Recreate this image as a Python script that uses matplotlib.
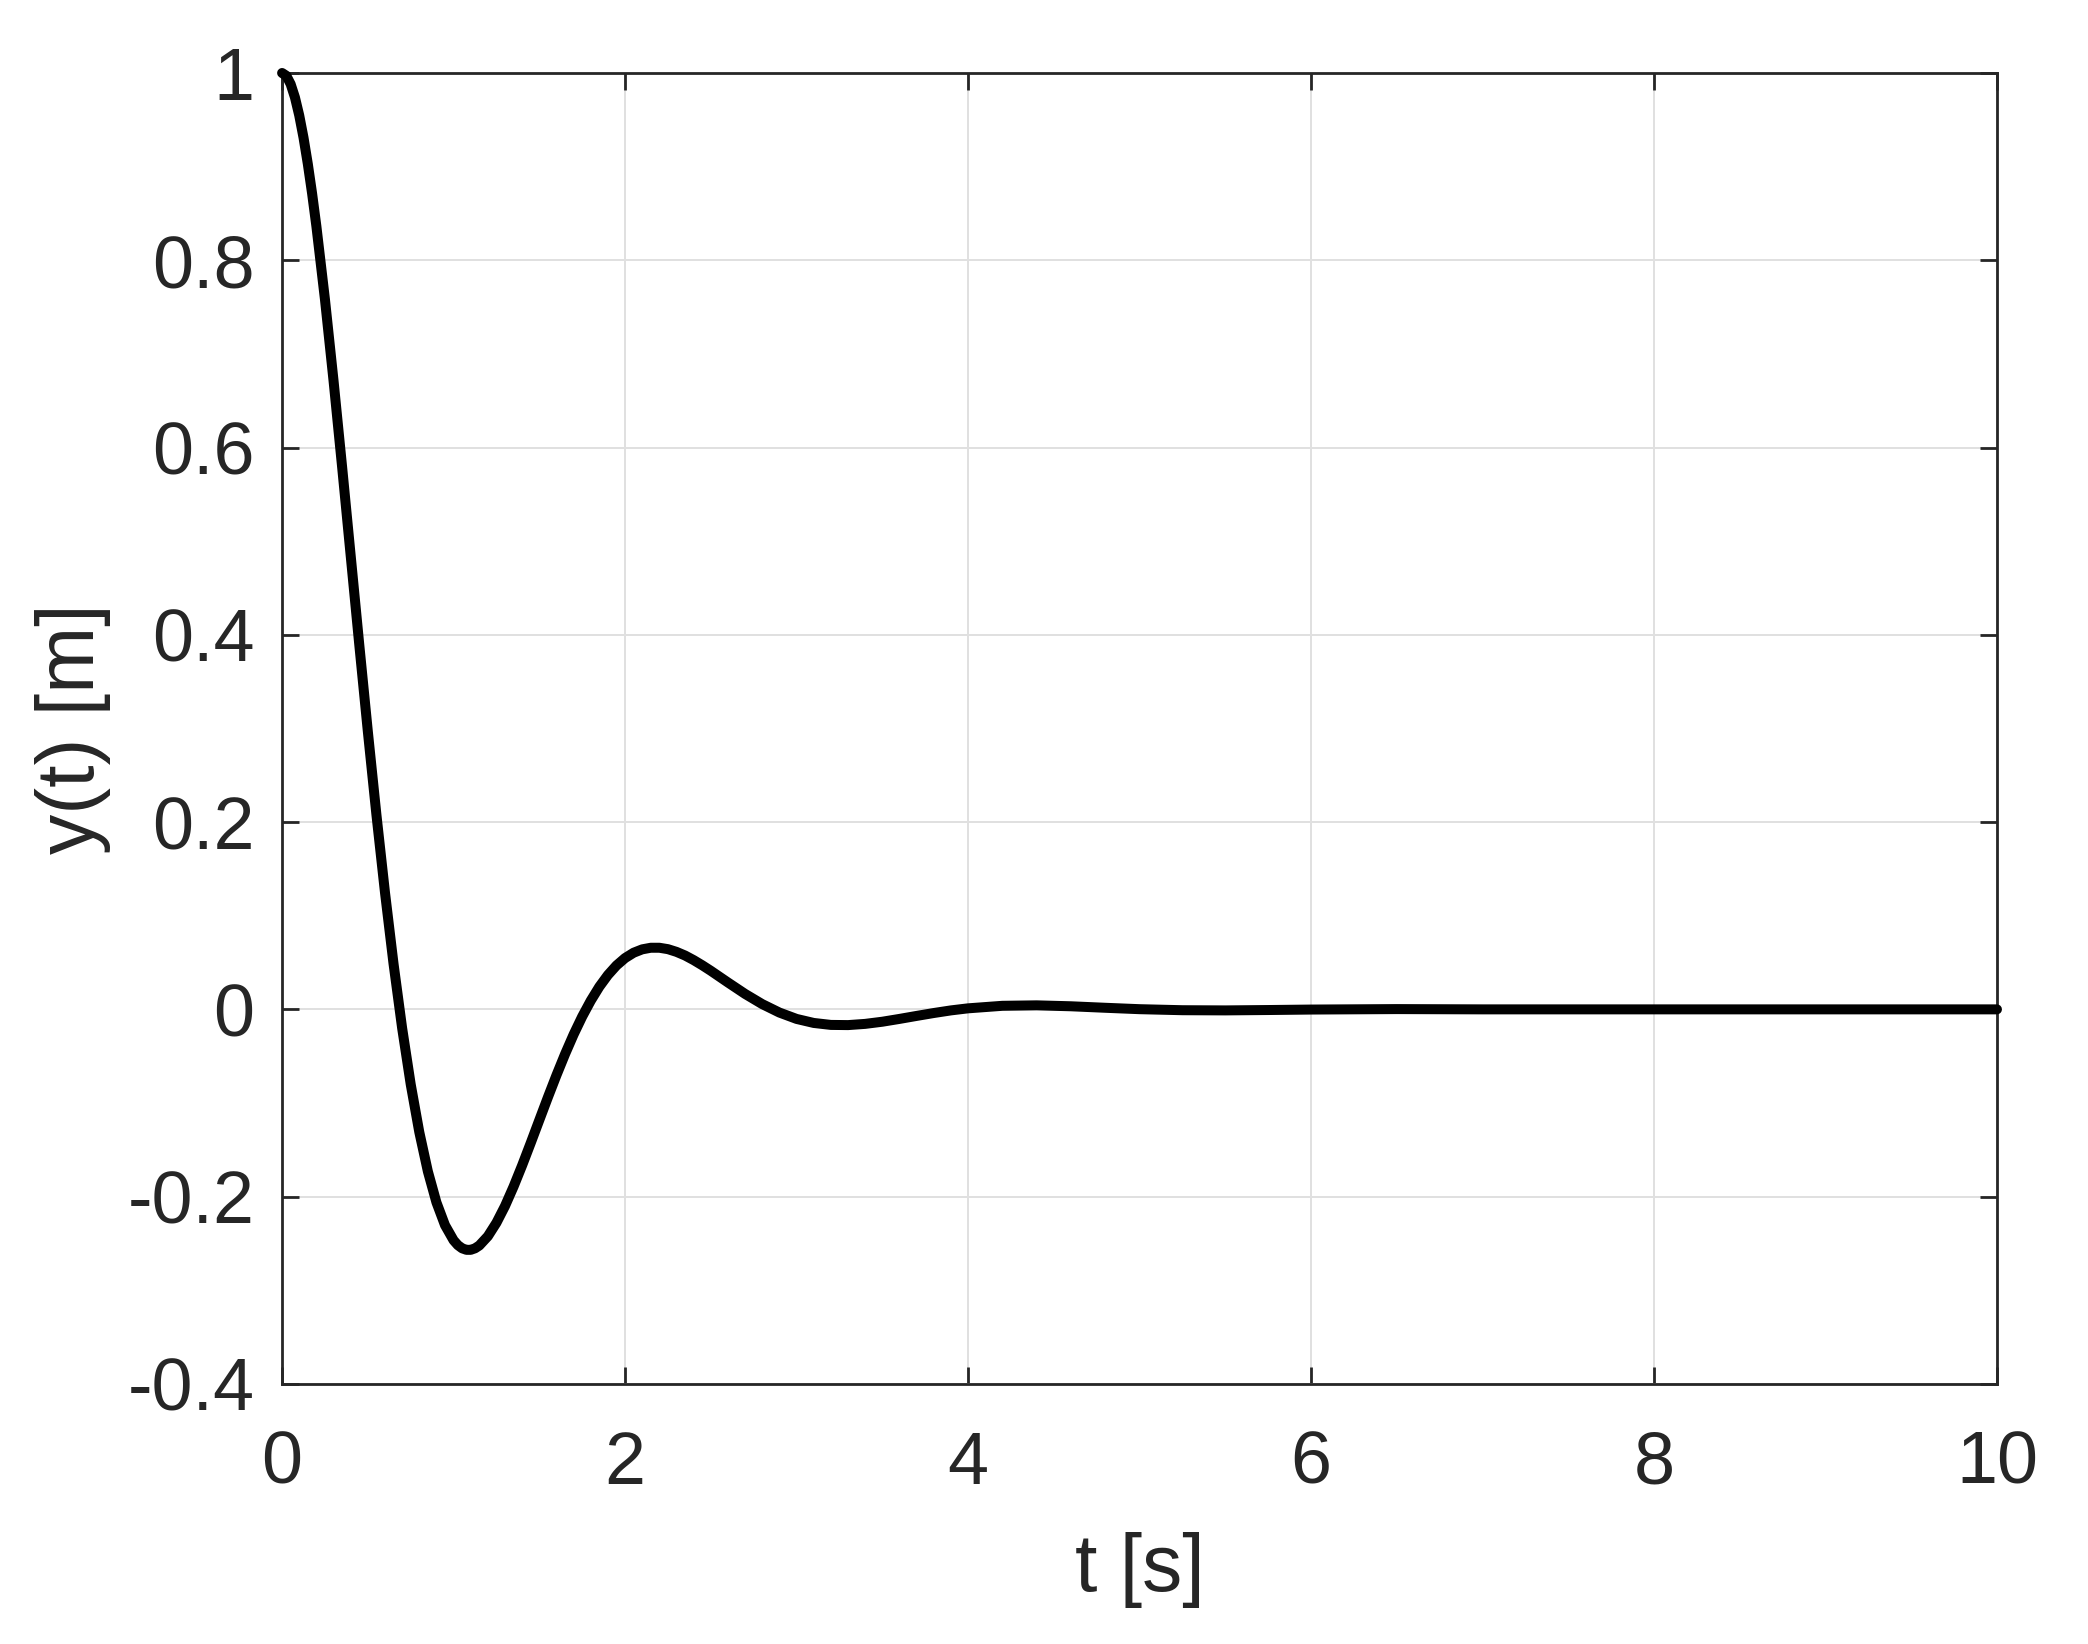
import matplotlib

matplotlib.use("Agg")
import matplotlib.pyplot as plt

# values
t_s = [0.0, 0.025, 0.05, 0.075, 0.10, 0.125, 0.15, 0.175, 0.20, 0.25,
       0.30, 0.35, 0.40, 0.45, 0.50, 0.55, 0.60, 0.65, 0.70, 0.75,
       0.80, 0.85, 0.90, 0.95, 1.00, 1.025, 1.05, 1.075, 1.10, 1.125,
       1.15, 1.20, 1.25, 1.30, 1.35, 1.40, 1.45, 1.50, 1.55, 1.60,
       1.65, 1.70, 1.75, 1.80, 1.85, 1.90, 1.95, 2.00, 2.05, 2.10,
       2.15, 2.20, 2.25, 2.30, 2.35, 2.40, 2.45, 2.50, 2.60, 2.70,
       2.80, 2.90, 3.00, 3.10, 3.20, 3.30, 3.40, 3.50, 3.60, 3.70,
       3.80, 3.90, 4.00, 4.20, 4.40, 4.60, 4.80, 5.00, 5.25, 5.50,
       5.75, 6.00, 6.50, 7.00, 8.00, 9.00, 10.00]
y_m = [1.0, 0.9970, 0.9881, 0.9739, 0.9547, 0.9309, 0.9029, 0.8713, 0.8363, 0.7581,
       0.6714, 0.5793, 0.4845, 0.3896, 0.2968, 0.2080, 0.1248, 0.0485, -0.0200, -0.0800,
       -0.1310, -0.1730, -0.2061, -0.2305, -0.2466, -0.2518, -0.2552, -0.2568, -0.2568, -0.2552,
       -0.2522, -0.2423, -0.2279, -0.2100, -0.1892, -0.1665, -0.1426, -0.1182, -0.0939, -0.0703,
       -0.0478, -0.0268, -0.0077, 0.0093, 0.0242, 0.0367, 0.0469, 0.0548, 0.0605, 0.0641,
       0.0658, 0.0658, 0.0643, 0.0614, 0.0575, 0.0526, 0.0471, 0.0412, 0.0287, 0.0165,
       0.0056, -0.0034, -0.0102, -0.0145, -0.0166, -0.0168, -0.0155, -0.0132, -0.0102, -0.0070,
       -0.0039, -0.0011, 0.0011, 0.0038, 0.0043, 0.0033, 0.0017, 0.0002, -0.0009, -0.0011,
       -0.0007, -0.0002, 0.0003, 0.0, 0.0, 0.0, 0.0]

x_ticks = [0, 2, 4, 6, 8, 10]
x_tick_labels = ["0", "2", "4", "6", "8", "10"]
y_ticks = [-0.4, -0.2, 0, 0.2, 0.4, 0.6, 0.8, 1.0]
y_tick_labels = ["-0.4", "-0.2", "0", "0.2", "0.4", "0.6", "0.8", "1"]

plt.rcParams["font.family"] = ["Liberation Sans", "DejaVu Sans"]
text_color = "#262626"

fig = plt.figure(figsize=(10.44, 8.22), dpi=200)
ax = fig.add_axes([0.1351, 0.1582, 0.8213, 0.7974])

ax.plot(t_s, y_m, color="black", lw=3.6, solid_joinstyle="round",
        solid_capstyle="round", zorder=3, clip_on=False)

ax.set_xlim(0, 10)
ax.set_ylim(-0.4, 1.0)
ax.set_xticks(x_ticks)
ax.set_xticklabels(x_tick_labels)
ax.set_yticks(y_ticks)
ax.set_yticklabels(y_tick_labels)

ax.grid(True, color="#e0e0e0", lw=0.7)
ax.set_axisbelow(True)
for spine in ax.spines.values():
    spine.set_color(text_color)
    spine.set_linewidth(1.0)
ax.tick_params(direction="in", length=6, width=1.0, color=text_color,
               top=True, right=True, labelsize=26.5, labelcolor=text_color)
ax.tick_params(axis="x", pad=16.5)
ax.tick_params(axis="y", pad=10)

ax.set_xlabel("t [s]", fontsize=29, color=text_color, labelpad=12)
ax.set_ylabel("y(t) [m]", fontsize=29, color=text_color, labelpad=6)

fig.savefig("out.png", dpi=200, facecolor="white")
plt.close(fig)
